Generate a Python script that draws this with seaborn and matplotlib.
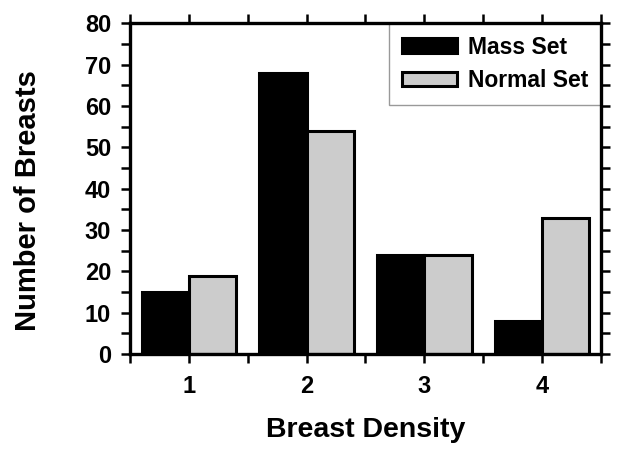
import matplotlib
matplotlib.use("Agg")
import matplotlib.pyplot as plt
import seaborn as sns
import pandas as pd

densities = ["1", "2", "3", "4"]
mass_set = [15, 68, 24, 8]
normal_set = [19, 54, 24, 33]
series_names = ["Mass Set", "Normal Set"]
yticks = [0, 10, 20, 30, 40, 50, 60, 70, 80]

df = pd.DataFrame({
    "Breast Density": densities * 2,
    "Number of Breasts": mass_set + normal_set,
    "Set": [series_names[0]] * 4 + [series_names[1]] * 4,
})

sns.set_theme(style="white")
plt.rcParams["font.family"] = ["Liberation Sans", "DejaVu Sans"]
plt.rcParams["font.weight"] = "bold"
plt.rcParams["text.color"] = "black"
plt.rcParams["axes.labelcolor"] = "black"
plt.rcParams["xtick.color"] = "black"
plt.rcParams["ytick.color"] = "black"

fig = plt.figure(figsize=(6.21, 4.54), dpi=100)
ax = fig.add_axes([0.209, 0.22, 0.759, 0.729])

sns.barplot(data=df, x="Breast Density", y="Number of Breasts", hue="Set",
            palette=["black", "#cccccc"], saturation=1, width=0.8,
            edgecolor="black", linewidth=2.2, ax=ax)

ax.set_xlim(-0.5, 3.5)
ax.set_ylim(0, 80)
ax.set_yticks(yticks)
ax.set_yticks([v + 5 for v in yticks[:-1]], minor=True)
ax.set_xticks(range(4))
ax.set_xticklabels(densities)
ax.set_xticks([-0.5, 0.5, 1.5, 2.5, 3.5], minor=True)

for s in ax.spines.values():
    s.set_linewidth(2.4)
    s.set_color("black")
    s.set_visible(True)
    s.set_zorder(6)

ax.tick_params(which="both", direction="out", length=6.5, width=1.8, color="black",
               labelcolor="black",
               top=True, right=True, bottom=True, left=True,
               labeltop=False, labelright=False)
ax.tick_params(which="major", labelsize=17)
ax.tick_params(axis="x", which="major", pad=8.5)
ax.tick_params(axis="y", which="major", pad=7)
for lab in ax.get_xticklabels() + ax.get_yticklabels():
    lab.set_fontweight("bold")

ax.set_xlabel("Breast Density", fontsize=20.5, fontweight="bold", labelpad=14, color="black")
ax.set_ylabel("Number of Breasts", fontsize=21, fontweight="bold", labelpad=31, color="black")
ax.yaxis.label.set_y(0.465)

leg = ax.legend(loc="upper right", borderaxespad=0, frameon=True, fancybox=False,
                edgecolor="#999999", framealpha=1,
                prop={"size": 16.5, "weight": "bold"},
                handlelength=2.4, handleheight=0.6, labelspacing=0.45,
                handletextpad=0.5, borderpad=0.55)
leg.get_frame().set_linewidth(1)
for t in leg.get_texts():
    t.set_color("black")
for h in leg.legend_handles:
    h.set_linewidth(2.2)
    h.set_edgecolor("black")

fig.savefig("out.png", dpi=100)
